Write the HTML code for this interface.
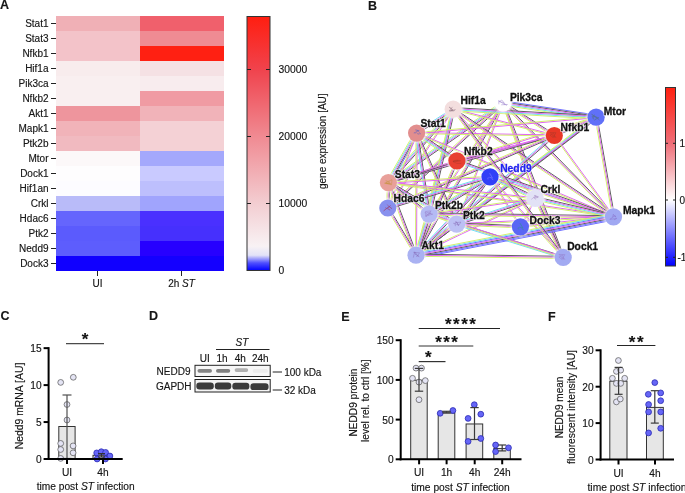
<!DOCTYPE html>
<html><head><meta charset="utf-8"><style>
html,body{margin:0;padding:0;background:#fff;width:685px;height:493px;overflow:hidden}
svg{display:block;font-family:"Liberation Sans", sans-serif;will-change:transform}
text{stroke:#222;stroke-width:0.15px}
</style></head><body>
<svg width="685" height="493" viewBox="0 0 685 493">
<rect width="685" height="493" fill="#fff"/>
<rect x="56" y="16" width="84" height="15" fill="#f0b0b6"/>
<rect x="140" y="16" width="84" height="15" fill="#f0606c"/>
<line x1="51" y1="23.5" x2="56" y2="23.5" stroke="#222" stroke-width="1"/>
<text x="48.5" y="27.1" font-size="10" text-anchor="end" font-weight="normal" fill="#111"  style="">Stat1</text>
<rect x="56" y="31" width="84" height="15" fill="#f3c3c9"/>
<rect x="140" y="31" width="84" height="15" fill="#ef8b93"/>
<line x1="51" y1="38.5" x2="56" y2="38.5" stroke="#222" stroke-width="1"/>
<text x="48.5" y="42.1" font-size="10" text-anchor="end" font-weight="normal" fill="#111"  style="">Stat3</text>
<rect x="56" y="46" width="84" height="15" fill="#f3c3c9"/>
<rect x="140" y="46" width="84" height="15" fill="#ff2012"/>
<line x1="51" y1="53.5" x2="56" y2="53.5" stroke="#222" stroke-width="1"/>
<text x="48.5" y="57.1" font-size="10" text-anchor="end" font-weight="normal" fill="#111"  style="">Nfkb1</text>
<rect x="56" y="61" width="84" height="15" fill="#f8eced"/>
<rect x="140" y="61" width="84" height="15" fill="#f5e1e4"/>
<line x1="51" y1="68.5" x2="56" y2="68.5" stroke="#222" stroke-width="1"/>
<text x="48.5" y="72.1" font-size="10" text-anchor="end" font-weight="normal" fill="#111"  style="">Hif1a</text>
<rect x="56" y="76" width="84" height="15" fill="#f9eff0"/>
<rect x="140" y="76" width="84" height="15" fill="#f8ecee"/>
<line x1="51" y1="83.5" x2="56" y2="83.5" stroke="#222" stroke-width="1"/>
<text x="48.5" y="87.1" font-size="10" text-anchor="end" font-weight="normal" fill="#111"  style="">Pik3ca</text>
<rect x="56" y="91" width="84" height="15" fill="#f9eff0"/>
<rect x="140" y="91" width="84" height="15" fill="#f09ba3"/>
<line x1="51" y1="98.5" x2="56" y2="98.5" stroke="#222" stroke-width="1"/>
<text x="48.5" y="102.1" font-size="10" text-anchor="end" font-weight="normal" fill="#111"  style="">Nfkb2</text>
<rect x="56" y="106" width="84" height="15" fill="#ee959d"/>
<rect x="140" y="106" width="84" height="15" fill="#f1b3b9"/>
<line x1="51" y1="113.5" x2="56" y2="113.5" stroke="#222" stroke-width="1"/>
<text x="48.5" y="117.1" font-size="10" text-anchor="end" font-weight="normal" fill="#111"  style="">Akt1</text>
<rect x="56" y="121" width="84" height="15" fill="#f1b3b9"/>
<rect x="140" y="121" width="84" height="15" fill="#f4d1d5"/>
<line x1="51" y1="128.5" x2="56" y2="128.5" stroke="#222" stroke-width="1"/>
<text x="48.5" y="132.1" font-size="10" text-anchor="end" font-weight="normal" fill="#111"  style="">Mapk1</text>
<rect x="56" y="136" width="84" height="15" fill="#f1bac0"/>
<rect x="140" y="136" width="84" height="15" fill="#f4d1d5"/>
<line x1="51" y1="143.5" x2="56" y2="143.5" stroke="#222" stroke-width="1"/>
<text x="48.5" y="147.1" font-size="10" text-anchor="end" font-weight="normal" fill="#111"  style="">Ptk2b</text>
<rect x="56" y="151" width="84" height="15" fill="#fcf8f9"/>
<rect x="140" y="151" width="84" height="15" fill="#a4a8fc"/>
<line x1="51" y1="158.5" x2="56" y2="158.5" stroke="#222" stroke-width="1"/>
<text x="48.5" y="162.1" font-size="10" text-anchor="end" font-weight="normal" fill="#111"  style="">Mtor</text>
<rect x="56" y="166" width="84" height="15" fill="#fefdfe"/>
<rect x="140" y="166" width="84" height="15" fill="#c9caff"/>
<line x1="51" y1="173.5" x2="56" y2="173.5" stroke="#222" stroke-width="1"/>
<text x="48.5" y="177.1" font-size="10" text-anchor="end" font-weight="normal" fill="#111"  style="">Dock1</text>
<rect x="56" y="181" width="84" height="15" fill="#fdfcff"/>
<rect x="140" y="181" width="84" height="15" fill="#bdbffd"/>
<line x1="51" y1="188.5" x2="56" y2="188.5" stroke="#222" stroke-width="1"/>
<text x="48.5" y="192.1" font-size="10" text-anchor="end" font-weight="normal" fill="#111"  style="">Hif1an</text>
<rect x="56" y="196" width="84" height="15" fill="#b9bbf9"/>
<rect x="140" y="196" width="84" height="15" fill="#a0a4fd"/>
<line x1="51" y1="203.5" x2="56" y2="203.5" stroke="#222" stroke-width="1"/>
<text x="48.5" y="207.1" font-size="10" text-anchor="end" font-weight="normal" fill="#111"  style="">Crkl</text>
<rect x="56" y="211" width="84" height="15" fill="#6565fd"/>
<rect x="140" y="211" width="84" height="15" fill="#4a30ff"/>
<line x1="51" y1="218.5" x2="56" y2="218.5" stroke="#222" stroke-width="1"/>
<text x="48.5" y="222.1" font-size="10" text-anchor="end" font-weight="normal" fill="#111"  style="">Hdac6</text>
<rect x="56" y="226" width="84" height="15" fill="#5b5bfd"/>
<rect x="140" y="226" width="84" height="15" fill="#4630fd"/>
<line x1="51" y1="233.5" x2="56" y2="233.5" stroke="#222" stroke-width="1"/>
<text x="48.5" y="237.1" font-size="10" text-anchor="end" font-weight="normal" fill="#111"  style="">Ptk2</text>
<rect x="56" y="241" width="84" height="15" fill="#5d5dfd"/>
<rect x="140" y="241" width="84" height="15" fill="#2700ff"/>
<line x1="51" y1="248.5" x2="56" y2="248.5" stroke="#222" stroke-width="1"/>
<text x="48.5" y="252.1" font-size="10" text-anchor="end" font-weight="normal" fill="#111"  style="">Nedd9</text>
<rect x="56" y="256" width="84" height="15" fill="#1000ff"/>
<rect x="140" y="256" width="84" height="15" fill="#1400ff"/>
<line x1="51" y1="263.5" x2="56" y2="263.5" stroke="#222" stroke-width="1"/>
<text x="48.5" y="267.1" font-size="10" text-anchor="end" font-weight="normal" fill="#111"  style="">Dock3</text>
<line x1="97.5" y1="271" x2="97.5" y2="276" stroke="#222" stroke-width="1"/>
<text x="97.5" y="287" font-size="10" text-anchor="middle" font-weight="normal" fill="#111"  style="">UI</text>
<line x1="181.5" y1="271" x2="181.5" y2="276" stroke="#222" stroke-width="1"/>
<text x="181.5" y="287" font-size="10" text-anchor="middle" font-weight="normal" fill="#111"  style="">2h <tspan font-style="italic">ST</tspan></text>
<defs>
<linearGradient id="cb" x1="0" y1="1" x2="0" y2="0">
<stop offset="0" stop-color="#0000ff"/>
<stop offset="0.03" stop-color="#5050ff"/>
<stop offset="0.06" stop-color="#e2e2f8"/>
<stop offset="0.095" stop-color="#f8f2f4"/>
<stop offset="0.265" stop-color="#f3cdd1"/>
<stop offset="0.528" stop-color="#f08a92"/>
<stop offset="0.79" stop-color="#f0434d"/>
<stop offset="1" stop-color="#ff1e10"/>
</linearGradient>
<linearGradient id="cb2" x1="0" y1="1" x2="0" y2="0">
<stop offset="0" stop-color="#0000ff"/>
<stop offset="0.05" stop-color="#2020ff"/>
<stop offset="0.37" stop-color="#ffffff"/>
<stop offset="0.687" stop-color="#ef6e78"/>
<stop offset="1" stop-color="#ff2010"/>
</linearGradient>
<filter id="nb" x="-20%" y="-20%" width="140%" height="140%"><feGaussianBlur stdDeviation="0.55"/></filter>
<filter id="eb" x="360" y="80" width="280" height="200" filterUnits="userSpaceOnUse"><feGaussianBlur stdDeviation="0.3"/></filter>
<filter id="hb" x="-30%" y="-30%" width="160%" height="160%"><feGaussianBlur stdDeviation="0.9"/></filter>
<filter id="bb" x="-20%" y="-50%" width="140%" height="200%"><feGaussianBlur stdDeviation="0.7"/></filter>
<radialGradient id="shade" cx="0.5" cy="0.5" r="0.5">
<stop offset="0.80" stop-color="#fff" stop-opacity="0"/>
<stop offset="1" stop-color="#fff" stop-opacity="0.35"/>
</radialGradient>
</defs>
<rect x="247" y="16.5" width="23" height="254" fill="url(#cb)" stroke="#333" stroke-width="1"/>
<line x1="247" y1="203.5" x2="251" y2="203.5" stroke="#222" stroke-width="1"/>
<line x1="266" y1="203.5" x2="270" y2="203.5" stroke="#222" stroke-width="1"/>
<text x="278.5" y="207.1" font-size="10.3" text-anchor="start" font-weight="normal" fill="#111"  style="">10000</text>
<line x1="247" y1="136.5" x2="251" y2="136.5" stroke="#222" stroke-width="1"/>
<line x1="266" y1="136.5" x2="270" y2="136.5" stroke="#222" stroke-width="1"/>
<text x="278.5" y="140.1" font-size="10.3" text-anchor="start" font-weight="normal" fill="#111"  style="">20000</text>
<line x1="247" y1="69.5" x2="251" y2="69.5" stroke="#222" stroke-width="1"/>
<line x1="266" y1="69.5" x2="270" y2="69.5" stroke="#222" stroke-width="1"/>
<text x="278.5" y="73.1" font-size="10.3" text-anchor="start" font-weight="normal" fill="#111"  style="">30000</text>
<text x="278.5" y="274.1" font-size="10.3" text-anchor="start" font-weight="normal" fill="#111"  style="">0</text>
<text x="0" y="0" font-size="10" text-anchor="middle" font-weight="normal" fill="#111" transform="translate(325.6,141.2) rotate(-90)" style="">gene expression [AU]</text>
<text x="0" y="9.1" font-size="12.5" text-anchor="start" font-weight="bold" fill="#151515"  style="">A</text>
<text x="368.1" y="9.9" font-size="12.5" text-anchor="start" font-weight="bold" fill="#151515"  style="">B</text>
<text x="0.6" y="320" font-size="12.5" text-anchor="start" font-weight="bold" fill="#151515"  style="">C</text>
<text x="149" y="319.8" font-size="12.5" text-anchor="start" font-weight="bold" fill="#151515"  style="">D</text>
<text x="341.2" y="320.6" font-size="12.5" text-anchor="start" font-weight="bold" fill="#151515"  style="">E</text>
<text x="548" y="320.6" font-size="12.5" text-anchor="start" font-weight="bold" fill="#151515"  style="">F</text>
<g stroke-width="1.0" fill="none" stroke-linecap="butt" filter="url(#eb)">
<line x1="503.33" y1="100.86" x2="596.43" y2="115.06" stroke="#7070ff"/>
<line x1="503.16" y1="101.93" x2="596.26" y2="116.13" stroke="#606060"/>
<line x1="503.00" y1="103.00" x2="596.10" y2="117.20" stroke="#e066f2"/>
<line x1="502.84" y1="104.07" x2="595.94" y2="118.27" stroke="#70e0f2"/>
<line x1="502.67" y1="105.14" x2="595.77" y2="119.34" stroke="#d4f070"/>
<line x1="503.92" y1="104.33" x2="389.32" y2="183.93" stroke="#606060"/>
<line x1="503.31" y1="103.44" x2="388.71" y2="183.04" stroke="#e066f2"/>
<line x1="502.69" y1="102.56" x2="388.09" y2="182.16" stroke="#70e0f2"/>
<line x1="502.08" y1="101.67" x2="387.48" y2="181.27" stroke="#d4f070"/>
<line x1="503.94" y1="103.54" x2="416.94" y2="255.74" stroke="#606060"/>
<line x1="503.00" y1="103.00" x2="416.00" y2="255.20" stroke="#e066f2"/>
<line x1="502.06" y1="102.46" x2="415.06" y2="254.66" stroke="#d4f070"/>
<line x1="503.50" y1="103.19" x2="457.20" y2="224.29" stroke="#e066f2"/>
<line x1="502.50" y1="102.81" x2="456.20" y2="223.91" stroke="#d4f070"/>
<line x1="503.45" y1="103.30" x2="429.55" y2="214.40" stroke="#e066f2"/>
<line x1="502.55" y1="102.70" x2="428.65" y2="213.80" stroke="#d4f070"/>
<line x1="503.58" y1="102.09" x2="554.88" y2="134.59" stroke="#606060"/>
<line x1="503.00" y1="103.00" x2="554.30" y2="135.50" stroke="#e066f2"/>
<line x1="502.42" y1="103.91" x2="553.72" y2="136.41" stroke="#d4f070"/>
<line x1="503.77" y1="102.25" x2="614.27" y2="216.05" stroke="#606060"/>
<line x1="503.00" y1="103.00" x2="613.50" y2="216.80" stroke="#e066f2"/>
<line x1="502.23" y1="103.75" x2="612.73" y2="217.55" stroke="#d4f070"/>
<line x1="503.51" y1="102.83" x2="535.81" y2="198.13" stroke="#e066f2"/>
<line x1="502.49" y1="103.17" x2="534.79" y2="198.47" stroke="#d4f070"/>
<line x1="504.01" y1="102.61" x2="564.21" y2="257.01" stroke="#606060"/>
<line x1="503.00" y1="103.00" x2="563.20" y2="257.40" stroke="#e066f2"/>
<line x1="501.99" y1="103.39" x2="562.19" y2="257.79" stroke="#d4f070"/>
<line x1="503.73" y1="103.80" x2="388.53" y2="208.80" stroke="#606060"/>
<line x1="503.00" y1="103.00" x2="387.80" y2="208.00" stroke="#e066f2"/>
<line x1="502.27" y1="102.20" x2="387.07" y2="207.20" stroke="#d4f070"/>
<line x1="453.79" y1="110.10" x2="417.19" y2="134.00" stroke="#606060"/>
<line x1="453.20" y1="109.20" x2="416.60" y2="133.10" stroke="#e066f2"/>
<line x1="452.61" y1="108.30" x2="416.01" y2="132.20" stroke="#70e0f2"/>
<line x1="454.41" y1="110.27" x2="389.61" y2="183.67" stroke="#606060"/>
<line x1="453.60" y1="109.56" x2="388.80" y2="182.96" stroke="#e066f2"/>
<line x1="452.80" y1="108.84" x2="388.00" y2="182.24" stroke="#70e0f2"/>
<line x1="451.99" y1="108.13" x2="387.19" y2="181.53" stroke="#d4f070"/>
<line x1="453.34" y1="108.68" x2="554.44" y2="134.98" stroke="#e066f2"/>
<line x1="453.06" y1="109.72" x2="554.16" y2="136.02" stroke="#d4f070"/>
<line x1="453.29" y1="107.58" x2="596.19" y2="115.58" stroke="#606060"/>
<line x1="453.23" y1="108.66" x2="596.13" y2="116.66" stroke="#e066f2"/>
<line x1="453.17" y1="109.74" x2="596.07" y2="117.74" stroke="#70e0f2"/>
<line x1="453.11" y1="110.82" x2="596.01" y2="118.82" stroke="#d4f070"/>
<line x1="453.72" y1="109.33" x2="416.52" y2="255.33" stroke="#e066f2"/>
<line x1="452.68" y1="109.07" x2="415.48" y2="255.07" stroke="#d4f070"/>
<line x1="453.80" y1="108.30" x2="614.10" y2="215.90" stroke="#606060"/>
<line x1="453.20" y1="109.20" x2="613.50" y2="216.80" stroke="#e066f2"/>
<line x1="452.60" y1="110.10" x2="612.90" y2="217.70" stroke="#d4f070"/>
<line x1="453.60" y1="108.83" x2="535.70" y2="197.93" stroke="#e066f2"/>
<line x1="452.80" y1="109.57" x2="534.90" y2="198.67" stroke="#d4f070"/>
<line x1="453.65" y1="109.50" x2="388.25" y2="208.30" stroke="#e066f2"/>
<line x1="452.75" y1="108.90" x2="387.35" y2="207.70" stroke="#d4f070"/>
<line x1="454.78" y1="109.56" x2="430.68" y2="214.46" stroke="#606060"/>
<line x1="453.73" y1="109.32" x2="429.63" y2="214.22" stroke="#e066f2"/>
<line x1="452.67" y1="109.08" x2="428.57" y2="213.98" stroke="#70e0f2"/>
<line x1="451.62" y1="108.84" x2="427.52" y2="213.74" stroke="#d4f070"/>
<line x1="596.15" y1="117.74" x2="416.65" y2="133.64" stroke="#e066f2"/>
<line x1="596.05" y1="116.66" x2="416.55" y2="132.56" stroke="#d4f070"/>
<line x1="596.26" y1="117.72" x2="388.56" y2="183.12" stroke="#e066f2"/>
<line x1="595.94" y1="116.68" x2="388.24" y2="182.08" stroke="#d4f070"/>
<line x1="596.76" y1="118.06" x2="416.66" y2="256.06" stroke="#606060"/>
<line x1="596.10" y1="117.20" x2="416.00" y2="255.20" stroke="#e066f2"/>
<line x1="595.44" y1="116.34" x2="415.34" y2="254.34" stroke="#d4f070"/>
<line x1="597.16" y1="117.01" x2="614.56" y2="216.61" stroke="#606060"/>
<line x1="596.10" y1="117.20" x2="613.50" y2="216.80" stroke="#e066f2"/>
<line x1="595.04" y1="117.39" x2="612.44" y2="216.99" stroke="#d4f070"/>
<line x1="597.09" y1="118.49" x2="457.69" y2="225.39" stroke="#606060"/>
<line x1="596.43" y1="117.63" x2="457.03" y2="224.53" stroke="#e066f2"/>
<line x1="595.77" y1="116.77" x2="456.37" y2="223.67" stroke="#70e0f2"/>
<line x1="595.11" y1="115.91" x2="455.71" y2="222.81" stroke="#d4f070"/>
<line x1="596.53" y1="118.19" x2="554.73" y2="136.49" stroke="#606060"/>
<line x1="596.10" y1="117.20" x2="554.30" y2="135.50" stroke="#e066f2"/>
<line x1="595.67" y1="116.21" x2="553.87" y2="134.51" stroke="#d4f070"/>
<line x1="418.48" y1="134.17" x2="390.28" y2="183.67" stroke="#7070ff"/>
<line x1="417.54" y1="133.63" x2="389.34" y2="183.13" stroke="#606060"/>
<line x1="416.60" y1="133.10" x2="388.40" y2="182.60" stroke="#e066f2"/>
<line x1="415.66" y1="132.57" x2="387.46" y2="182.07" stroke="#70e0f2"/>
<line x1="414.72" y1="132.03" x2="386.52" y2="181.53" stroke="#d4f070"/>
<line x1="416.61" y1="132.56" x2="554.31" y2="134.96" stroke="#e066f2"/>
<line x1="416.59" y1="133.64" x2="554.29" y2="136.04" stroke="#d4f070"/>
<line x1="417.52" y1="131.76" x2="457.82" y2="159.46" stroke="#606060"/>
<line x1="416.91" y1="132.65" x2="457.21" y2="160.35" stroke="#e066f2"/>
<line x1="416.29" y1="133.55" x2="456.59" y2="161.25" stroke="#70e0f2"/>
<line x1="415.68" y1="134.44" x2="455.98" y2="162.14" stroke="#d4f070"/>
<line x1="417.14" y1="133.10" x2="416.54" y2="255.20" stroke="#e066f2"/>
<line x1="416.06" y1="133.10" x2="415.46" y2="255.20" stroke="#d4f070"/>
<line x1="416.81" y1="132.60" x2="613.71" y2="216.30" stroke="#e066f2"/>
<line x1="416.39" y1="133.60" x2="613.29" y2="217.30" stroke="#d4f070"/>
<line x1="417.10" y1="133.29" x2="388.30" y2="208.19" stroke="#e066f2"/>
<line x1="416.10" y1="132.91" x2="387.30" y2="207.81" stroke="#d4f070"/>
<line x1="417.67" y1="132.94" x2="430.17" y2="213.94" stroke="#606060"/>
<line x1="416.60" y1="133.10" x2="429.10" y2="214.10" stroke="#e066f2"/>
<line x1="415.53" y1="133.26" x2="428.03" y2="214.26" stroke="#70e0f2"/>
<line x1="417.59" y1="132.66" x2="457.69" y2="223.66" stroke="#606060"/>
<line x1="416.60" y1="133.10" x2="456.70" y2="224.10" stroke="#e066f2"/>
<line x1="415.61" y1="133.54" x2="455.71" y2="224.54" stroke="#d4f070"/>
<line x1="554.44" y1="136.02" x2="457.04" y2="161.32" stroke="#606060"/>
<line x1="554.16" y1="134.98" x2="456.76" y2="160.28" stroke="#e066f2"/>
<line x1="554.45" y1="136.02" x2="388.55" y2="183.12" stroke="#606060"/>
<line x1="554.15" y1="134.98" x2="388.25" y2="182.08" stroke="#e066f2"/>
<line x1="555.01" y1="136.32" x2="416.71" y2="256.02" stroke="#606060"/>
<line x1="554.30" y1="135.50" x2="416.00" y2="255.20" stroke="#e066f2"/>
<line x1="553.59" y1="134.68" x2="415.29" y2="254.38" stroke="#70e0f2"/>
<line x1="554.74" y1="135.18" x2="613.94" y2="216.48" stroke="#e066f2"/>
<line x1="553.86" y1="135.82" x2="613.06" y2="217.12" stroke="#d4f070"/>
<line x1="554.73" y1="136.49" x2="388.23" y2="208.99" stroke="#606060"/>
<line x1="554.30" y1="135.50" x2="387.80" y2="208.00" stroke="#e066f2"/>
<line x1="553.87" y1="134.51" x2="387.37" y2="207.01" stroke="#d4f070"/>
<line x1="457.06" y1="161.31" x2="388.56" y2="183.11" stroke="#606060"/>
<line x1="456.74" y1="160.29" x2="388.24" y2="182.09" stroke="#e066f2"/>
<line x1="457.89" y1="161.23" x2="416.99" y2="255.63" stroke="#606060"/>
<line x1="456.90" y1="160.80" x2="416.00" y2="255.20" stroke="#e066f2"/>
<line x1="455.91" y1="160.37" x2="415.01" y2="254.77" stroke="#d4f070"/>
<line x1="457.26" y1="159.78" x2="613.86" y2="215.78" stroke="#606060"/>
<line x1="456.90" y1="160.80" x2="613.50" y2="216.80" stroke="#e066f2"/>
<line x1="456.54" y1="161.82" x2="613.14" y2="217.82" stroke="#70e0f2"/>
<line x1="389.41" y1="182.22" x2="417.01" y2="254.82" stroke="#606060"/>
<line x1="388.40" y1="182.60" x2="416.00" y2="255.20" stroke="#e066f2"/>
<line x1="387.39" y1="182.98" x2="414.99" y2="255.58" stroke="#d4f070"/>
<line x1="388.48" y1="182.07" x2="613.58" y2="216.27" stroke="#e066f2"/>
<line x1="388.32" y1="183.13" x2="613.42" y2="217.33" stroke="#d4f070"/>
<line x1="389.48" y1="182.63" x2="388.88" y2="208.03" stroke="#606060"/>
<line x1="388.40" y1="182.60" x2="387.80" y2="208.00" stroke="#e066f2"/>
<line x1="387.32" y1="182.57" x2="386.72" y2="207.97" stroke="#d4f070"/>
<line x1="389.24" y1="181.22" x2="457.54" y2="222.72" stroke="#606060"/>
<line x1="388.68" y1="182.14" x2="456.98" y2="223.64" stroke="#e066f2"/>
<line x1="388.12" y1="183.06" x2="456.42" y2="224.56" stroke="#70e0f2"/>
<line x1="387.56" y1="183.98" x2="455.86" y2="225.48" stroke="#d4f070"/>
<line x1="389.06" y1="181.75" x2="429.76" y2="213.25" stroke="#606060"/>
<line x1="388.40" y1="182.60" x2="429.10" y2="214.10" stroke="#e066f2"/>
<line x1="387.74" y1="183.45" x2="428.44" y2="214.95" stroke="#d4f070"/>
<line x1="490.88" y1="177.42" x2="457.58" y2="224.72" stroke="#606060"/>
<line x1="490.00" y1="176.80" x2="456.70" y2="224.10" stroke="#e066f2"/>
<line x1="489.12" y1="176.18" x2="455.82" y2="223.48" stroke="#d4f070"/>
<line x1="490.85" y1="178.18" x2="429.95" y2="215.48" stroke="#606060"/>
<line x1="490.28" y1="177.26" x2="429.38" y2="214.56" stroke="#e066f2"/>
<line x1="489.72" y1="176.34" x2="428.82" y2="213.64" stroke="#70e0f2"/>
<line x1="489.15" y1="175.42" x2="428.25" y2="212.72" stroke="#d4f070"/>
<line x1="490.69" y1="175.34" x2="535.99" y2="196.84" stroke="#606060"/>
<line x1="490.23" y1="176.31" x2="535.53" y2="197.81" stroke="#e066f2"/>
<line x1="489.77" y1="177.29" x2="535.07" y2="198.79" stroke="#70e0f2"/>
<line x1="489.31" y1="178.26" x2="534.61" y2="199.76" stroke="#d4f070"/>
<line x1="490.40" y1="176.44" x2="563.60" y2="257.04" stroke="#e066f2"/>
<line x1="489.60" y1="177.16" x2="562.80" y2="257.76" stroke="#d4f070"/>
<line x1="490.46" y1="176.52" x2="520.86" y2="226.52" stroke="#e066f2"/>
<line x1="489.54" y1="177.08" x2="519.94" y2="227.08" stroke="#d4f070"/>
<line x1="490.79" y1="177.54" x2="416.79" y2="255.94" stroke="#606060"/>
<line x1="490.00" y1="176.80" x2="416.00" y2="255.20" stroke="#e066f2"/>
<line x1="489.21" y1="176.06" x2="415.21" y2="254.46" stroke="#70e0f2"/>
<line x1="490.17" y1="176.29" x2="613.67" y2="216.29" stroke="#e066f2"/>
<line x1="489.83" y1="177.31" x2="613.33" y2="217.31" stroke="#d4f070"/>
<line x1="490.32" y1="177.83" x2="388.12" y2="209.03" stroke="#606060"/>
<line x1="490.00" y1="176.80" x2="387.80" y2="208.00" stroke="#e066f2"/>
<line x1="489.68" y1="175.77" x2="387.48" y2="206.97" stroke="#70e0f2"/>
<line x1="490.03" y1="177.34" x2="388.43" y2="183.14" stroke="#e066f2"/>
<line x1="489.97" y1="176.26" x2="388.37" y2="182.06" stroke="#d4f070"/>
<line x1="536.28" y1="197.84" x2="564.18" y2="256.94" stroke="#606060"/>
<line x1="535.30" y1="198.30" x2="563.20" y2="257.40" stroke="#e066f2"/>
<line x1="534.32" y1="198.76" x2="562.22" y2="257.86" stroke="#d4f070"/>
<line x1="535.78" y1="198.55" x2="520.88" y2="227.05" stroke="#e066f2"/>
<line x1="534.82" y1="198.05" x2="519.92" y2="226.55" stroke="#d4f070"/>
<line x1="535.64" y1="199.33" x2="457.04" y2="225.13" stroke="#606060"/>
<line x1="535.30" y1="198.30" x2="456.70" y2="224.10" stroke="#e066f2"/>
<line x1="534.96" y1="197.27" x2="456.36" y2="223.07" stroke="#70e0f2"/>
<line x1="535.38" y1="198.83" x2="429.18" y2="214.63" stroke="#e066f2"/>
<line x1="535.22" y1="197.77" x2="429.02" y2="213.57" stroke="#d4f070"/>
<line x1="535.67" y1="196.72" x2="613.87" y2="215.22" stroke="#606060"/>
<line x1="535.42" y1="197.77" x2="613.62" y2="216.27" stroke="#e066f2"/>
<line x1="535.18" y1="198.83" x2="613.38" y2="217.33" stroke="#70e0f2"/>
<line x1="534.93" y1="199.88" x2="613.13" y2="218.38" stroke="#d4f070"/>
<line x1="535.53" y1="198.79" x2="416.23" y2="255.69" stroke="#e066f2"/>
<line x1="535.07" y1="197.81" x2="415.77" y2="254.71" stroke="#d4f070"/>
<line x1="388.73" y1="207.45" x2="416.93" y2="254.65" stroke="#606060"/>
<line x1="387.80" y1="208.00" x2="416.00" y2="255.20" stroke="#e066f2"/>
<line x1="386.87" y1="208.55" x2="415.07" y2="255.75" stroke="#d4f070"/>
<line x1="429.28" y1="213.59" x2="456.88" y2="223.59" stroke="#e066f2"/>
<line x1="428.92" y1="214.61" x2="456.52" y2="224.61" stroke="#d4f070"/>
<line x1="430.64" y1="214.59" x2="417.54" y2="255.69" stroke="#606060"/>
<line x1="429.61" y1="214.26" x2="416.51" y2="255.36" stroke="#e066f2"/>
<line x1="428.59" y1="213.94" x2="415.49" y2="255.04" stroke="#70e0f2"/>
<line x1="427.56" y1="213.61" x2="414.46" y2="254.71" stroke="#d4f070"/>
<line x1="429.12" y1="213.02" x2="613.52" y2="215.72" stroke="#606060"/>
<line x1="429.10" y1="214.10" x2="613.50" y2="216.80" stroke="#e066f2"/>
<line x1="429.08" y1="215.18" x2="613.48" y2="217.88" stroke="#d4f070"/>
<line x1="457.36" y1="224.96" x2="416.66" y2="256.06" stroke="#606060"/>
<line x1="456.70" y1="224.10" x2="416.00" y2="255.20" stroke="#e066f2"/>
<line x1="456.04" y1="223.24" x2="415.34" y2="254.34" stroke="#d4f070"/>
<line x1="456.67" y1="223.56" x2="613.47" y2="216.26" stroke="#e066f2"/>
<line x1="456.73" y1="224.64" x2="613.53" y2="217.34" stroke="#d4f070"/>
<line x1="457.02" y1="223.07" x2="563.52" y2="256.37" stroke="#606060"/>
<line x1="456.70" y1="224.10" x2="563.20" y2="257.40" stroke="#e066f2"/>
<line x1="456.38" y1="225.13" x2="562.88" y2="258.43" stroke="#70e0f2"/>
<line x1="456.75" y1="223.02" x2="520.45" y2="225.72" stroke="#606060"/>
<line x1="456.70" y1="224.10" x2="520.40" y2="226.80" stroke="#e066f2"/>
<line x1="456.65" y1="225.18" x2="520.35" y2="227.88" stroke="#d4f070"/>
<line x1="520.34" y1="226.26" x2="613.44" y2="216.26" stroke="#e066f2"/>
<line x1="520.46" y1="227.34" x2="613.56" y2="217.34" stroke="#d4f070"/>
<line x1="614.12" y1="219.98" x2="416.62" y2="258.38" stroke="#7070ff"/>
<line x1="613.91" y1="218.92" x2="416.41" y2="257.32" stroke="#7070ff"/>
<line x1="613.71" y1="217.86" x2="416.21" y2="256.26" stroke="#606060"/>
<line x1="613.50" y1="216.80" x2="416.00" y2="255.20" stroke="#e066f2"/>
<line x1="613.29" y1="215.74" x2="415.79" y2="254.14" stroke="#7070ff"/>
<line x1="613.09" y1="214.68" x2="415.59" y2="253.08" stroke="#70e0f2"/>
<line x1="612.88" y1="213.62" x2="415.38" y2="252.02" stroke="#d4f070"/>
<line x1="416.02" y1="254.12" x2="563.22" y2="256.32" stroke="#606060"/>
<line x1="416.00" y1="255.20" x2="563.20" y2="257.40" stroke="#e066f2"/>
<line x1="415.98" y1="256.28" x2="563.18" y2="258.48" stroke="#d4f070"/>
<line x1="454.07" y1="108.56" x2="564.07" y2="256.76" stroke="#606060"/>
<line x1="453.20" y1="109.20" x2="563.20" y2="257.40" stroke="#e066f2"/>
<line x1="452.33" y1="109.84" x2="562.33" y2="258.04" stroke="#d4f070"/>
<line x1="429.27" y1="213.59" x2="563.37" y2="256.89" stroke="#e066f2"/>
<line x1="428.93" y1="214.61" x2="563.03" y2="257.91" stroke="#d4f070"/>
<line x1="388.46" y1="182.06" x2="535.36" y2="197.76" stroke="#e066f2"/>
<line x1="388.34" y1="183.14" x2="535.24" y2="198.84" stroke="#d4f070"/>
</g>
<circle cx="453.2" cy="109.2" r="10" fill="#fff" fill-opacity="0.75" filter="url(#hb)"/>
<circle cx="453.2" cy="109.2" r="8.6" fill="#f3dede" filter="url(#nb)"/>
<path d="M452.5,106.9 L449.2,110.9 L455.3,109.6 L454.1,110.9 L450.7,110.4 L452.5,109.5 L449.2,107.1 L453.3,110.7 L449.6,111.3" stroke="#806070" stroke-width="0.55" fill="none" opacity="0.7" stroke-linejoin="round"/>
<circle cx="503" cy="103" r="10" fill="#fff" fill-opacity="0.75" filter="url(#hb)"/>
<circle cx="503" cy="103" r="8.6" fill="#ffffff" filter="url(#nb)"/>
<path d="M501.2,104.8 L507.4,104.5 L506.1,105.3 L501.8,100.0 L499.1,101.7 L503.3,102.4 L504.6,104.6 L498.6,100.5 L498.9,104.3" stroke="#8060c0" stroke-width="0.55" fill="none" opacity="0.7" stroke-linejoin="round"/>
<circle cx="596.1" cy="117.2" r="10" fill="#fff" fill-opacity="0.75" filter="url(#hb)"/>
<circle cx="596.1" cy="117.2" r="8.6" fill="#6070f8" filter="url(#nb)"/>
<path d="M594.5,114.5 L592.9,118.5 L593.7,119.2 L592.0,116.3 L599.0,117.8 L594.4,120.1 L597.3,117.5 L591.6,114.3 L599.6,120.2" stroke="#507070" stroke-width="0.55" fill="none" opacity="0.7" stroke-linejoin="round"/>
<circle cx="416.6" cy="133.1" r="10" fill="#fff" fill-opacity="0.75" filter="url(#hb)"/>
<circle cx="416.6" cy="133.1" r="8.6" fill="#e28e8e" filter="url(#nb)"/>
<path d="M418.6,134.9 L417.2,133.4 L420.6,134.0 L417.6,130.2 L415.9,133.1 L413.8,132.9 L419.3,130.6 L415.4,129.9 L418.8,130.9" stroke="#6060c0" stroke-width="0.55" fill="none" opacity="0.7" stroke-linejoin="round"/>
<circle cx="554.3" cy="135.5" r="10" fill="#fff" fill-opacity="0.75" filter="url(#hb)"/>
<circle cx="554.3" cy="135.5" r="8.6" fill="#e83828" filter="url(#nb)"/>
<path d="M553.1,135.6 L553.3,137.7 L550.0,135.2 L553.7,133.1 L554.8,137.5 L550.1,132.5 L556.0,132.7 L554.4,135.3 L556.0,137.7" stroke="#a03828" stroke-width="0.55" fill="none" opacity="0.7" stroke-linejoin="round"/>
<circle cx="456.9" cy="160.8" r="10" fill="#fff" fill-opacity="0.75" filter="url(#hb)"/>
<circle cx="456.9" cy="160.8" r="8.6" fill="#e84030" filter="url(#nb)"/>
<path d="M461.3,163.4 L457.0,163.4 L452.9,161.6 L460.5,160.7 L457.3,161.0 L453.1,161.2 L454.5,160.6 L458.2,160.1 L457.3,161.1" stroke="#a03828" stroke-width="0.55" fill="none" opacity="0.7" stroke-linejoin="round"/>
<circle cx="388.4" cy="182.6" r="10" fill="#fff" fill-opacity="0.75" filter="url(#hb)"/>
<circle cx="388.4" cy="182.6" r="8.6" fill="#e8a09a" filter="url(#nb)"/>
<path d="M385.7,182.4 L392.0,179.7 L391.5,184.8 L384.5,183.2 L390.8,183.8 L385.8,182.6 L387.3,183.3 L389.9,182.1 L385.6,180.5" stroke="#c09030" stroke-width="0.55" fill="none" opacity="0.7" stroke-linejoin="round"/>
<circle cx="490.0" cy="176.8" r="10" fill="#fff" fill-opacity="0.75" filter="url(#hb)"/>
<circle cx="490.0" cy="176.8" r="8.6" fill="#3040f8" filter="url(#nb)"/>
<path d="M488.9,178.8 L487.6,179.1 L487.7,177.8 L488.7,177.3 L492.5,177.7 L489.5,173.6 L490.2,173.4 L493.0,180.1 L489.8,176.9" stroke="#7c7cff" stroke-width="0.55" fill="none" opacity="0.7" stroke-linejoin="round"/>
<circle cx="535.3" cy="198.3" r="10" fill="#fff" fill-opacity="0.75" filter="url(#hb)"/>
<circle cx="535.3" cy="198.3" r="8.6" fill="#e2e2f6" filter="url(#nb)"/>
<path d="M531.3,199.4 L535.8,195.8 L534.6,197.4 L538.5,196.8 L534.3,195.4 L538.1,197.4 L535.0,198.2 L533.6,197.4 L536.2,199.7" stroke="#a080c0" stroke-width="0.55" fill="none" opacity="0.7" stroke-linejoin="round"/>
<circle cx="387.8" cy="208.0" r="10" fill="#fff" fill-opacity="0.75" filter="url(#hb)"/>
<circle cx="387.8" cy="208.0" r="8.6" fill="#8890ee" filter="url(#nb)"/>
<path d="M386.8,204.5 L392.0,208.7 L388.9,206.6 L383.6,210.9 L390.5,205.6 L387.6,208.2 L388.9,209.3 L390.1,210.1 L385.0,207.5" stroke="#a03860" stroke-width="0.55" fill="none" opacity="0.7" stroke-linejoin="round"/>
<circle cx="429.1" cy="214.1" r="10" fill="#fff" fill-opacity="0.75" filter="url(#hb)"/>
<circle cx="429.1" cy="214.1" r="8.6" fill="#b4baf4" filter="url(#nb)"/>
<path d="M425.0,211.5 L431.2,210.9 L425.5,216.0 L431.0,212.7 L426.1,216.8 L425.1,212.1 L428.0,215.4 L432.7,214.2 L426.2,212.1" stroke="#9070c0" stroke-width="0.55" fill="none" opacity="0.7" stroke-linejoin="round"/>
<circle cx="456.7" cy="224.1" r="10" fill="#fff" fill-opacity="0.75" filter="url(#hb)"/>
<circle cx="456.7" cy="224.1" r="8.6" fill="#bcc0f4" filter="url(#nb)"/>
<path d="M453.1,223.2 L458.7,224.8 L455.8,221.3 L457.4,223.3 L458.3,225.9 L460.9,222.1 L455.0,222.7 L455.3,225.9 L455.6,225.9" stroke="#8060b0" stroke-width="0.55" fill="none" opacity="0.7" stroke-linejoin="round"/>
<circle cx="520.4" cy="226.8" r="10" fill="#fff" fill-opacity="0.75" filter="url(#hb)"/>
<circle cx="520.4" cy="226.8" r="8.6" fill="#5a66f4" filter="url(#nb)"/>
<path d="M519.3,228.8 L518.0,229.1 L518.1,227.8 L519.1,227.3 L522.9,227.7 L519.9,223.6 L520.6,223.4 L523.4,230.1 L520.2,226.9" stroke="#309090" stroke-width="0.55" fill="none" opacity="0.7" stroke-linejoin="round"/>
<circle cx="613.5" cy="216.8" r="10" fill="#fff" fill-opacity="0.75" filter="url(#hb)"/>
<circle cx="613.5" cy="216.8" r="8.6" fill="#a0a8f2" filter="url(#nb)"/>
<path d="M612.3,216.4 L613.1,216.3 L613.3,214.3 L615.8,217.3 L615.2,215.6 L609.8,219.3 L611.1,219.2 L616.7,218.5 L614.0,219.9" stroke="#8060c0" stroke-width="0.55" fill="none" opacity="0.7" stroke-linejoin="round"/>
<circle cx="416.0" cy="255.2" r="10" fill="#fff" fill-opacity="0.75" filter="url(#hb)"/>
<circle cx="416.0" cy="255.2" r="8.6" fill="#aab2f2" filter="url(#nb)"/>
<path d="M413.3,257.6 L414.7,251.8 L416.3,253.5 L415.4,254.3 L419.2,256.6 L413.6,252.4 L419.6,252.8 L416.7,256.9 L416.8,256.4" stroke="#8060b0" stroke-width="0.55" fill="none" opacity="0.7" stroke-linejoin="round"/>
<circle cx="563.2" cy="257.4" r="10" fill="#fff" fill-opacity="0.75" filter="url(#hb)"/>
<circle cx="563.2" cy="257.4" r="8.6" fill="#a2aaf2" filter="url(#nb)"/>
<path d="M562.0,257.5 L562.2,259.6 L558.9,257.1 L562.6,255.0 L563.7,259.4 L559.0,254.4 L564.9,254.6 L563.3,257.2 L564.9,259.6" stroke="#9070c0" stroke-width="0.55" fill="none" opacity="0.7" stroke-linejoin="round"/>
<text x="460.5" y="104.4" font-size="10.3" text-anchor="start" font-weight="bold" fill="#fff"  style="stroke:#fff;stroke-width:1.6px;stroke-opacity:0.8;fill-opacity:0.8">Hif1a</text>
<text x="460.5" y="104.4" font-size="10.3" text-anchor="start" font-weight="bold" fill="#111"  style="stroke:#111;stroke-width:0.3px">Hif1a</text>
<text x="509.9" y="100.7" font-size="10.3" text-anchor="start" font-weight="bold" fill="#fff"  style="stroke:#fff;stroke-width:1.6px;stroke-opacity:0.8;fill-opacity:0.8">Pik3ca</text>
<text x="509.9" y="100.7" font-size="10.3" text-anchor="start" font-weight="bold" fill="#111"  style="stroke:#111;stroke-width:0.3px">Pik3ca</text>
<text x="603.7" y="114.6" font-size="10.3" text-anchor="start" font-weight="bold" fill="#fff"  style="stroke:#fff;stroke-width:1.6px;stroke-opacity:0.8;fill-opacity:0.8">Mtor</text>
<text x="603.7" y="114.6" font-size="10.3" text-anchor="start" font-weight="bold" fill="#111"  style="stroke:#111;stroke-width:0.3px">Mtor</text>
<text x="420.5" y="126.5" font-size="10.3" text-anchor="start" font-weight="bold" fill="#fff"  style="stroke:#fff;stroke-width:1.6px;stroke-opacity:0.8;fill-opacity:0.8">Stat1</text>
<text x="420.5" y="126.5" font-size="10.3" text-anchor="start" font-weight="bold" fill="#111"  style="stroke:#111;stroke-width:0.3px">Stat1</text>
<text x="560.6" y="131.1" font-size="10.3" text-anchor="start" font-weight="bold" fill="#fff"  style="stroke:#fff;stroke-width:1.6px;stroke-opacity:0.8;fill-opacity:0.8">Nfkb1</text>
<text x="560.6" y="131.1" font-size="10.3" text-anchor="start" font-weight="bold" fill="#111"  style="stroke:#111;stroke-width:0.3px">Nfkb1</text>
<text x="464.0" y="155" font-size="10.3" text-anchor="start" font-weight="bold" fill="#fff"  style="stroke:#fff;stroke-width:1.6px;stroke-opacity:0.8;fill-opacity:0.8">Nfkb2</text>
<text x="464.0" y="155" font-size="10.3" text-anchor="start" font-weight="bold" fill="#111"  style="stroke:#111;stroke-width:0.3px">Nfkb2</text>
<text x="394.8" y="177.8" font-size="10.3" text-anchor="start" font-weight="bold" fill="#fff"  style="stroke:#fff;stroke-width:1.6px;stroke-opacity:0.8;fill-opacity:0.8">Stat3</text>
<text x="394.8" y="177.8" font-size="10.3" text-anchor="start" font-weight="bold" fill="#111"  style="stroke:#111;stroke-width:0.3px">Stat3</text>
<text x="500.2" y="172" font-size="10.3" text-anchor="start" font-weight="bold" fill="#fff"  style="stroke:#fff;stroke-width:1.6px;stroke-opacity:0.8;fill-opacity:0.8">Nedd9</text>
<text x="500.2" y="172" font-size="10.3" text-anchor="start" font-weight="bold" fill="#2222ee"  style="stroke:#2222ee;stroke-width:0.3px">Nedd9</text>
<text x="540.4" y="193.2" font-size="10.3" text-anchor="start" font-weight="bold" fill="#fff"  style="stroke:#fff;stroke-width:1.6px;stroke-opacity:0.8;fill-opacity:0.8">Crkl</text>
<text x="540.4" y="193.2" font-size="10.3" text-anchor="start" font-weight="bold" fill="#111"  style="stroke:#111;stroke-width:0.3px">Crkl</text>
<text x="393.6" y="201.7" font-size="10.3" text-anchor="start" font-weight="bold" fill="#fff"  style="stroke:#fff;stroke-width:1.6px;stroke-opacity:0.8;fill-opacity:0.8">Hdac6</text>
<text x="393.6" y="201.7" font-size="10.3" text-anchor="start" font-weight="bold" fill="#111"  style="stroke:#111;stroke-width:0.3px">Hdac6</text>
<text x="435.0" y="209" font-size="10.3" text-anchor="start" font-weight="bold" fill="#fff"  style="stroke:#fff;stroke-width:1.6px;stroke-opacity:0.8;fill-opacity:0.8">Ptk2b</text>
<text x="435.0" y="209" font-size="10.3" text-anchor="start" font-weight="bold" fill="#111"  style="stroke:#111;stroke-width:0.3px">Ptk2b</text>
<text x="463.0" y="219.2" font-size="10.3" text-anchor="start" font-weight="bold" fill="#fff"  style="stroke:#fff;stroke-width:1.6px;stroke-opacity:0.8;fill-opacity:0.8">Ptk2</text>
<text x="463.0" y="219.2" font-size="10.3" text-anchor="start" font-weight="bold" fill="#111"  style="stroke:#111;stroke-width:0.3px">Ptk2</text>
<text x="529.5" y="224.1" font-size="10.3" text-anchor="start" font-weight="bold" fill="#fff"  style="stroke:#fff;stroke-width:1.6px;stroke-opacity:0.8;fill-opacity:0.8">Dock3</text>
<text x="529.5" y="224.1" font-size="10.3" text-anchor="start" font-weight="bold" fill="#111"  style="stroke:#111;stroke-width:0.3px">Dock3</text>
<text x="623.0" y="213.8" font-size="10.3" text-anchor="start" font-weight="bold" fill="#fff"  style="stroke:#fff;stroke-width:1.6px;stroke-opacity:0.8;fill-opacity:0.8">Mapk1</text>
<text x="623.0" y="213.8" font-size="10.3" text-anchor="start" font-weight="bold" fill="#111"  style="stroke:#111;stroke-width:0.3px">Mapk1</text>
<text x="421.6" y="249.2" font-size="10.3" text-anchor="start" font-weight="bold" fill="#fff"  style="stroke:#fff;stroke-width:1.6px;stroke-opacity:0.8;fill-opacity:0.8">Akt1</text>
<text x="421.6" y="249.2" font-size="10.3" text-anchor="start" font-weight="bold" fill="#111"  style="stroke:#111;stroke-width:0.3px">Akt1</text>
<text x="567.2" y="250.4" font-size="10.3" text-anchor="start" font-weight="bold" fill="#fff"  style="stroke:#fff;stroke-width:1.6px;stroke-opacity:0.8;fill-opacity:0.8">Dock1</text>
<text x="567.2" y="250.4" font-size="10.3" text-anchor="start" font-weight="bold" fill="#111"  style="stroke:#111;stroke-width:0.3px">Dock1</text>
<rect x="665.5" y="87.5" width="10" height="178.5" fill="url(#cb2)" stroke="#333" stroke-width="1"/>
<line x1="665.5" y1="143.3" x2="668" y2="143.3" stroke="#222"/>
<line x1="673" y1="143.3" x2="675.5" y2="143.3" stroke="#222"/>
<text x="679.5" y="146.9" font-size="10" text-anchor="start" font-weight="normal" fill="#111"  style="">1</text>
<line x1="665.5" y1="200" x2="668" y2="200" stroke="#222"/>
<line x1="673" y1="200" x2="675.5" y2="200" stroke="#222"/>
<text x="679.5" y="203.6" font-size="10" text-anchor="start" font-weight="normal" fill="#111"  style="">0</text>
<line x1="665.5" y1="257.3" x2="668" y2="257.3" stroke="#222"/>
<line x1="673" y1="257.3" x2="675.5" y2="257.3" stroke="#222"/>
<text x="677.5" y="260.90000000000003" font-size="10" text-anchor="start" font-weight="normal" fill="#111"  style="">-1</text>
<rect x="58.8" y="426.5" width="16.299999999999997" height="32.5" fill="#e6e6e6" stroke="#333" stroke-width="1"/>
<rect x="93.0" y="455.305" width="17.0" height="3.694999999999993" fill="#e6e6e6" stroke="#333" stroke-width="1"/>
<circle cx="60.7" cy="382.4" r="2.9" fill="#e4e4f4" stroke="#555" stroke-width="0.7"/>
<circle cx="73.3" cy="377.3" r="2.9" fill="#e4e4f4" stroke="#555" stroke-width="0.7"/>
<circle cx="67" cy="404.5" r="2.9" fill="#e4e4f4" stroke="#555" stroke-width="0.7"/>
<circle cx="67" cy="420" r="2.9" fill="#e4e4f4" stroke="#555" stroke-width="0.7"/>
<circle cx="60.7" cy="443.4" r="2.9" fill="#e4e4f4" stroke="#555" stroke-width="0.7"/>
<circle cx="60.7" cy="449.5" r="2.9" fill="#e4e4f4" stroke="#555" stroke-width="0.7"/>
<circle cx="73.1" cy="445.9" r="2.9" fill="#e4e4f4" stroke="#555" stroke-width="0.7"/>
<circle cx="73.1" cy="452.8" r="2.9" fill="#e4e4f4" stroke="#555" stroke-width="0.7"/>
<circle cx="60.7" cy="458.4" r="2.9" fill="#e4e4f4" stroke="#555" stroke-width="0.7"/>
<line x1="67" y1="395" x2="67" y2="458.5" stroke="#505050" stroke-width="1.2"/>
<line x1="62.5" y1="395" x2="71.5" y2="395" stroke="#505050" stroke-width="1.2"/>
<line x1="62.5" y1="458.5" x2="71.5" y2="458.5" stroke="#505050" stroke-width="1.2"/>
<circle cx="96.7" cy="452.9" r="2.9" fill="#6666f6" stroke="#2a2ab4" stroke-width="0.8"/>
<circle cx="101.3" cy="451.7" r="2.9" fill="#6666f6" stroke="#2a2ab4" stroke-width="0.8"/>
<circle cx="105.6" cy="452.4" r="2.9" fill="#6666f6" stroke="#2a2ab4" stroke-width="0.8"/>
<circle cx="109.9" cy="456" r="2.9" fill="#6666f6" stroke="#2a2ab4" stroke-width="0.8"/>
<circle cx="97.1" cy="459" r="2.9" fill="#6666f6" stroke="#2a2ab4" stroke-width="0.8"/>
<circle cx="105.5" cy="459" r="2.9" fill="#6666f6" stroke="#2a2ab4" stroke-width="0.8"/>
<line x1="101.5" y1="453.6" x2="101.5" y2="457" stroke="#333" stroke-width="1.2"/>
<line x1="98.0" y1="453.6" x2="105.0" y2="453.6" stroke="#333" stroke-width="1.2"/>
<line x1="98.0" y1="457" x2="105.0" y2="457" stroke="#333" stroke-width="1.2"/>
<line x1="48.6" y1="347.15" x2="48.6" y2="460" stroke="#000" stroke-width="2"/>
<line x1="47.6" y1="459" x2="122.7" y2="459" stroke="#000" stroke-width="2"/>
<line x1="43.6" y1="459" x2="48.6" y2="459" stroke="#000" stroke-width="2"/>
<text x="41.6" y="463.0" font-size="10.2" text-anchor="end" font-weight="normal" fill="#111"  style="">0</text>
<line x1="43.6" y1="422.05" x2="48.6" y2="422.05" stroke="#000" stroke-width="2"/>
<text x="41.6" y="426.05" font-size="10.2" text-anchor="end" font-weight="normal" fill="#111"  style="">5</text>
<line x1="43.6" y1="385.1" x2="48.6" y2="385.1" stroke="#000" stroke-width="2"/>
<text x="41.6" y="389.1" font-size="10.2" text-anchor="end" font-weight="normal" fill="#111"  style="">10</text>
<line x1="43.6" y1="348.15" x2="48.6" y2="348.15" stroke="#000" stroke-width="2"/>
<text x="41.6" y="352.15" font-size="10.2" text-anchor="end" font-weight="normal" fill="#111"  style="">15</text>
<line x1="67" y1="459" x2="67" y2="464" stroke="#000" stroke-width="2"/>
<text x="67" y="476" font-size="10.2" text-anchor="middle" font-weight="normal" fill="#111"  style="">UI</text>
<line x1="103" y1="459" x2="103" y2="464" stroke="#000" stroke-width="2"/>
<text x="103" y="476" font-size="10.2" text-anchor="middle" font-weight="normal" fill="#111"  style="">4h</text>
<line x1="66" y1="343.7" x2="104" y2="343.7" stroke="#4a4a4a" stroke-width="1.2"/>
<text x="81.65" y="345" font-size="17" text-anchor="start" font-weight="bold" fill="#111" letter-spacing="1.45" style="">*</text>
<text x="0" y="0" font-size="10.4" text-anchor="middle" font-weight="normal" fill="#111" transform="translate(22.8,406) rotate(-90)" style="">Nedd9 mRNA [AU]</text>
<text x="85.7" y="490" font-size="10.2" text-anchor="middle" font-weight="normal" fill="#111"  style="">time post <tspan font-style="italic">ST</tspan> infection</text>
<text x="242" y="345.5" font-size="10" text-anchor="middle" font-weight="normal" fill="#111"  style=""><tspan font-style="italic">ST</tspan></text>
<line x1="216" y1="349.5" x2="269.5" y2="349.5" stroke="#222" stroke-width="1"/>
<text x="204.7" y="362" font-size="10" text-anchor="middle" font-weight="normal" fill="#111"  style="">UI</text>
<text x="222" y="362" font-size="10" text-anchor="middle" font-weight="normal" fill="#111"  style="">1h</text>
<text x="240.2" y="362" font-size="10" text-anchor="middle" font-weight="normal" fill="#111"  style="">4h</text>
<text x="260.3" y="362" font-size="10" text-anchor="middle" font-weight="normal" fill="#111"  style="">24h</text>
<text x="190.5" y="375.3" font-size="10" text-anchor="end" font-weight="normal" fill="#111"  style="">NEDD9</text>
<text x="191.5" y="390.2" font-size="10" text-anchor="end" font-weight="normal" fill="#111"  style="">GAPDH</text>
<rect x="195" y="365.3" width="75.2" height="11.2" fill="#f7f7f7" stroke="#222" stroke-width="1"/>
<rect x="195" y="379.5" width="75.2" height="12.5" fill="#f4f4f4" stroke="#222" stroke-width="1"/>
<rect x="197.5" y="368.9" width="14.5" height="3.8" rx="1.9" fill="#858585" filter="url(#bb)"/>
<rect x="216" y="368.9" width="14.199999999999989" height="3.8" rx="1.9" fill="#808080" filter="url(#bb)"/>
<rect x="234.6" y="368.2" width="13.599999999999994" height="3.8" rx="1.9" fill="#b0b0b0" filter="url(#bb)"/>
<rect x="252.7" y="369" width="15.300000000000011" height="3.8" rx="1.9" fill="#ececec" filter="url(#bb)"/>
<rect x="196.3" y="382.6" width="17.5" height="6.8" rx="3.2" fill="#3a3a3a" filter="url(#bb)"/>
<rect x="214.8" y="382.6" width="16.5" height="6.8" rx="3.2" fill="#3a3a3a" filter="url(#bb)"/>
<rect x="232.3" y="382.8" width="17.099999999999994" height="6.8" rx="3.2" fill="#3a3a3a" filter="url(#bb)"/>
<rect x="250.4" y="383.3" width="18.200000000000017" height="6.8" rx="3.2" fill="#3a3a3a" filter="url(#bb)"/>
<line x1="272.7" y1="372" x2="282" y2="372" stroke="#222" stroke-width="1"/>
<line x1="272.7" y1="390" x2="282" y2="390" stroke="#222" stroke-width="1"/>
<text x="284.2" y="375.5" font-size="10" text-anchor="start" font-weight="normal" fill="#111"  style="">100 kDa</text>
<text x="284.2" y="394" font-size="10" text-anchor="start" font-weight="normal" fill="#111"  style="">32 kDa</text>
<rect x="410.7" y="380.2176" width="16.5" height="79.0824" fill="#e6e6e6" stroke="#333" stroke-width="1"/>
<rect x="438.2" y="413.00980000000004" width="16.600000000000023" height="46.29019999999997" fill="#e6e6e6" stroke="#333" stroke-width="1"/>
<rect x="466.1" y="423.967" width="16.599999999999966" height="35.33300000000003" fill="#e6e6e6" stroke="#333" stroke-width="1"/>
<rect x="493.8" y="448.581" width="16.5" height="10.718999999999994" fill="#e6e6e6" stroke="#333" stroke-width="1"/>
<circle cx="416" cy="368.1" r="2.9" fill="#e4e4f4" stroke="#555" stroke-width="0.7"/>
<circle cx="421.5" cy="368.1" r="2.9" fill="#e4e4f4" stroke="#555" stroke-width="0.7"/>
<circle cx="412.5" cy="378.3" r="2.9" fill="#e4e4f4" stroke="#555" stroke-width="0.7"/>
<circle cx="419" cy="382.1" r="2.9" fill="#e4e4f4" stroke="#555" stroke-width="0.7"/>
<circle cx="425.3" cy="380.6" r="2.9" fill="#e4e4f4" stroke="#555" stroke-width="0.7"/>
<circle cx="419" cy="399.7" r="2.9" fill="#e4e4f4" stroke="#555" stroke-width="0.7"/>
<circle cx="440.2" cy="413.3" r="2.9" fill="#6666f6" stroke="#2a2ab4" stroke-width="0.8"/>
<circle cx="452.9" cy="410.5" r="2.9" fill="#6666f6" stroke="#2a2ab4" stroke-width="0.8"/>
<circle cx="474.3" cy="404.7" r="2.9" fill="#6666f6" stroke="#2a2ab4" stroke-width="0.8"/>
<circle cx="480.8" cy="414.2" r="2.9" fill="#6666f6" stroke="#2a2ab4" stroke-width="0.8"/>
<circle cx="468.1" cy="418.4" r="2.9" fill="#6666f6" stroke="#2a2ab4" stroke-width="0.8"/>
<circle cx="468.1" cy="441.4" r="2.9" fill="#6666f6" stroke="#2a2ab4" stroke-width="0.8"/>
<circle cx="480.8" cy="438.5" r="2.9" fill="#6666f6" stroke="#2a2ab4" stroke-width="0.8"/>
<circle cx="495.6" cy="445" r="2.9" fill="#6666f6" stroke="#2a2ab4" stroke-width="0.8"/>
<circle cx="495.6" cy="451.6" r="2.9" fill="#6666f6" stroke="#2a2ab4" stroke-width="0.8"/>
<circle cx="508.5" cy="447.8" r="2.9" fill="#6666f6" stroke="#2a2ab4" stroke-width="0.8"/>
<line x1="419" y1="368.4" x2="419" y2="391.2" stroke="#3a3a3a" stroke-width="1.2"/>
<line x1="414.8" y1="368.4" x2="423.2" y2="368.4" stroke="#3a3a3a" stroke-width="1.2"/>
<line x1="414.8" y1="391.2" x2="423.2" y2="391.2" stroke="#3a3a3a" stroke-width="1.2"/>
<line x1="446.5" y1="411.3" x2="446.5" y2="412.8" stroke="#3a3a3a" stroke-width="1.2"/>
<line x1="442.3" y1="411.3" x2="450.7" y2="411.3" stroke="#3a3a3a" stroke-width="1.2"/>
<line x1="442.3" y1="412.8" x2="450.7" y2="412.8" stroke="#3a3a3a" stroke-width="1.2"/>
<line x1="474.5" y1="407.6" x2="474.5" y2="439.5" stroke="#3a3a3a" stroke-width="1.2"/>
<line x1="470.3" y1="407.6" x2="478.7" y2="407.6" stroke="#3a3a3a" stroke-width="1.2"/>
<line x1="470.3" y1="439.5" x2="478.7" y2="439.5" stroke="#3a3a3a" stroke-width="1.2"/>
<line x1="502.2" y1="445" x2="502.2" y2="450.9" stroke="#3a3a3a" stroke-width="1.2"/>
<line x1="498.2" y1="445" x2="506.2" y2="445" stroke="#3a3a3a" stroke-width="1.2"/>
<line x1="498.2" y1="450.9" x2="506.2" y2="450.9" stroke="#3a3a3a" stroke-width="1.2"/>
<line x1="400.7" y1="339.2" x2="400.7" y2="460.3" stroke="#000" stroke-width="2"/>
<line x1="399.7" y1="459.3" x2="521.5" y2="459.3" stroke="#000" stroke-width="2"/>
<line x1="395.7" y1="459.3" x2="400.7" y2="459.3" stroke="#000" stroke-width="2"/>
<text x="393.7" y="463.3" font-size="10.2" text-anchor="end" font-weight="normal" fill="#111"  style="">0</text>
<line x1="395.7" y1="419.6" x2="400.7" y2="419.6" stroke="#000" stroke-width="2"/>
<text x="393.7" y="423.6" font-size="10.2" text-anchor="end" font-weight="normal" fill="#111"  style="">50</text>
<line x1="395.7" y1="379.9" x2="400.7" y2="379.9" stroke="#000" stroke-width="2"/>
<text x="393.7" y="383.9" font-size="10.2" text-anchor="end" font-weight="normal" fill="#111"  style="">100</text>
<line x1="395.7" y1="340.2" x2="400.7" y2="340.2" stroke="#000" stroke-width="2"/>
<text x="393.7" y="344.2" font-size="10.2" text-anchor="end" font-weight="normal" fill="#111"  style="">150</text>
<line x1="419.1" y1="459.3" x2="419.1" y2="464.3" stroke="#000" stroke-width="2"/>
<text x="419.1" y="476.3" font-size="10.2" text-anchor="middle" font-weight="normal" fill="#111"  style="">UI</text>
<line x1="446.6" y1="459.3" x2="446.6" y2="464.3" stroke="#000" stroke-width="2"/>
<text x="446.6" y="476.3" font-size="10.2" text-anchor="middle" font-weight="normal" fill="#111"  style="">1h</text>
<line x1="474.7" y1="459.3" x2="474.7" y2="464.3" stroke="#000" stroke-width="2"/>
<text x="474.7" y="476.3" font-size="10.2" text-anchor="middle" font-weight="normal" fill="#111"  style="">4h</text>
<line x1="502.2" y1="459.3" x2="502.2" y2="464.3" stroke="#000" stroke-width="2"/>
<text x="502.2" y="476.3" font-size="10.2" text-anchor="middle" font-weight="normal" fill="#111"  style="">24h</text>
<line x1="418.7" y1="328.5" x2="500" y2="328.5" stroke="#222" stroke-width="1"/>
<text x="445.01000000000005" y="329.5" font-size="17" text-anchor="start" font-weight="bold" fill="#111" letter-spacing="1.45" style="">****</text>
<line x1="418.7" y1="346" x2="473.3" y2="346" stroke="#333" stroke-width="1"/>
<text x="435.24" y="347.5" font-size="17" text-anchor="start" font-weight="bold" fill="#111" letter-spacing="1.45" style="">***</text>
<line x1="418.7" y1="361.6" x2="445.5" y2="361.6" stroke="#333" stroke-width="1.2"/>
<text x="425.0" y="363.3" font-size="17" text-anchor="start" font-weight="bold" fill="#111" letter-spacing="1.45" style="">*</text>
<text x="0" y="0" font-size="10.1" text-anchor="middle" font-weight="normal" fill="#111" transform="translate(356.9,402.5) rotate(-90)" style="">NEDD9 protein</text>
<text x="0" y="0" font-size="10.1" text-anchor="middle" font-weight="normal" fill="#111" transform="translate(369,400.7) rotate(-90)" style="">level rel. to ctrl [%]</text>
<text x="460.5" y="490.5" font-size="10.25" text-anchor="middle" font-weight="normal" fill="#111"  style="">time post <tspan font-style="italic">ST</tspan> infection</text>
<rect x="609.8" y="381.2" width="17.200000000000045" height="78.30000000000001" fill="#e6e6e6" stroke="#333" stroke-width="1"/>
<rect x="646.5" y="407.4" width="16.799999999999955" height="52.10000000000002" fill="#e6e6e6" stroke="#333" stroke-width="1"/>
<circle cx="618.4" cy="360.5" r="2.9" fill="#e4e4f4" stroke="#555" stroke-width="0.7"/>
<circle cx="616.4" cy="371.4" r="2.9" fill="#e4e4f4" stroke="#555" stroke-width="0.7"/>
<circle cx="620.7" cy="370.2" r="2.9" fill="#e4e4f4" stroke="#555" stroke-width="0.7"/>
<circle cx="612.4" cy="378.3" r="2.9" fill="#e4e4f4" stroke="#555" stroke-width="0.7"/>
<circle cx="624.7" cy="378.3" r="2.9" fill="#e4e4f4" stroke="#555" stroke-width="0.7"/>
<circle cx="616.4" cy="383.4" r="2.9" fill="#e4e4f4" stroke="#555" stroke-width="0.7"/>
<circle cx="620.7" cy="383.4" r="2.9" fill="#e4e4f4" stroke="#555" stroke-width="0.7"/>
<circle cx="616.4" cy="401.9" r="2.9" fill="#e4e4f4" stroke="#555" stroke-width="0.7"/>
<circle cx="620.3" cy="399" r="2.9" fill="#e4e4f4" stroke="#555" stroke-width="0.7"/>
<circle cx="654.8" cy="382.6" r="2.9" fill="#6666f6" stroke="#2a2ab4" stroke-width="0.8"/>
<circle cx="648.3" cy="394.3" r="2.9" fill="#6666f6" stroke="#2a2ab4" stroke-width="0.8"/>
<circle cx="660.7" cy="392.9" r="2.9" fill="#6666f6" stroke="#2a2ab4" stroke-width="0.8"/>
<circle cx="660.7" cy="400.7" r="2.9" fill="#6666f6" stroke="#2a2ab4" stroke-width="0.8"/>
<circle cx="648.6" cy="404.5" r="2.9" fill="#6666f6" stroke="#2a2ab4" stroke-width="0.8"/>
<circle cx="648.6" cy="411.9" r="2.9" fill="#6666f6" stroke="#2a2ab4" stroke-width="0.8"/>
<circle cx="660.7" cy="411.9" r="2.9" fill="#6666f6" stroke="#2a2ab4" stroke-width="0.8"/>
<circle cx="648.6" cy="432.9" r="2.9" fill="#6666f6" stroke="#2a2ab4" stroke-width="0.8"/>
<circle cx="660.7" cy="428.3" r="2.9" fill="#6666f6" stroke="#2a2ab4" stroke-width="0.8"/>
<line x1="618.6" y1="367.4" x2="618.6" y2="394.3" stroke="#3a3a3a" stroke-width="1.2"/>
<line x1="614.6" y1="367.4" x2="622.6" y2="367.4" stroke="#3a3a3a" stroke-width="1.2"/>
<line x1="614.6" y1="394.3" x2="622.6" y2="394.3" stroke="#3a3a3a" stroke-width="1.2"/>
<line x1="654.8" y1="390.7" x2="654.8" y2="423.1" stroke="#3a3a3a" stroke-width="1.2"/>
<line x1="650.8" y1="390.7" x2="658.8" y2="390.7" stroke="#3a3a3a" stroke-width="1.2"/>
<line x1="650.8" y1="423.1" x2="658.8" y2="423.1" stroke="#3a3a3a" stroke-width="1.2"/>
<line x1="600.6" y1="349.3" x2="600.6" y2="460.5" stroke="#000" stroke-width="2"/>
<line x1="599.6" y1="459.5" x2="674" y2="459.5" stroke="#000" stroke-width="2"/>
<line x1="595.6" y1="459.5" x2="600.6" y2="459.5" stroke="#000" stroke-width="2"/>
<text x="593.6" y="463.5" font-size="10.2" text-anchor="end" font-weight="normal" fill="#111"  style="">0</text>
<line x1="595.6" y1="423.1" x2="600.6" y2="423.1" stroke="#000" stroke-width="2"/>
<text x="593.6" y="427.1" font-size="10.2" text-anchor="end" font-weight="normal" fill="#111"  style="">10</text>
<line x1="595.6" y1="386.7" x2="600.6" y2="386.7" stroke="#000" stroke-width="2"/>
<text x="593.6" y="390.7" font-size="10.2" text-anchor="end" font-weight="normal" fill="#111"  style="">20</text>
<line x1="595.6" y1="350.3" x2="600.6" y2="350.3" stroke="#000" stroke-width="2"/>
<text x="593.6" y="354.3" font-size="10.2" text-anchor="end" font-weight="normal" fill="#111"  style="">30</text>
<line x1="618.5" y1="459.5" x2="618.5" y2="464.5" stroke="#000" stroke-width="2"/>
<text x="618.5" y="476.5" font-size="10.2" text-anchor="middle" font-weight="normal" fill="#111"  style="">UI</text>
<line x1="655" y1="459.5" x2="655" y2="464.5" stroke="#000" stroke-width="2"/>
<text x="655" y="476.5" font-size="10.2" text-anchor="middle" font-weight="normal" fill="#111"  style="">4h</text>
<line x1="617" y1="345.5" x2="655.4" y2="345.5" stroke="#262626" stroke-width="1"/>
<text x="628.82" y="347.6" font-size="17" text-anchor="start" font-weight="bold" fill="#111" letter-spacing="1.45" style="">**</text>
<text x="0" y="0" font-size="10" text-anchor="middle" font-weight="normal" fill="#111" transform="translate(562.7,407.5) rotate(-90)" style="">NEDD9 mean</text>
<text x="0" y="0" font-size="10.3" text-anchor="middle" font-weight="normal" fill="#111" transform="translate(574.5,407) rotate(-90)" style="">fluorescent intensity  [AU]</text>
<text x="587.5" y="490.5" font-size="10.3" text-anchor="start" font-weight="normal" fill="#111"  style="">time post <tspan font-style="italic">ST</tspan> infection</text>
</svg></body></html>
